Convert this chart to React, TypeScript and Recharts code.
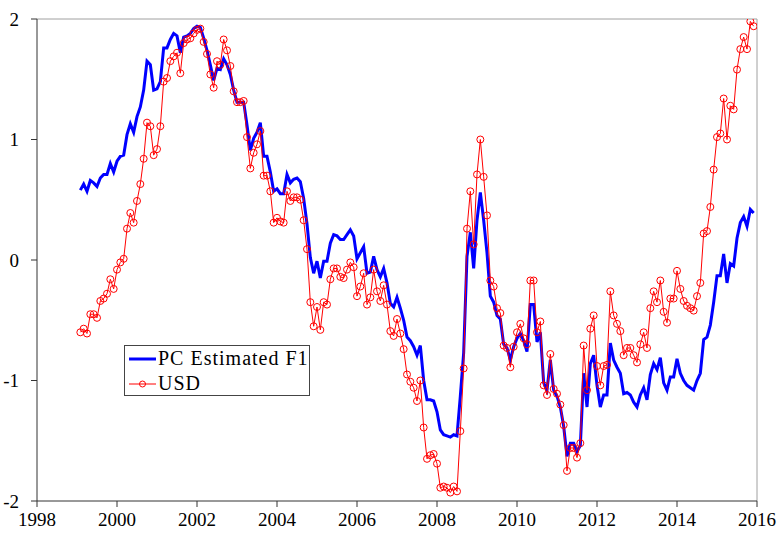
import React from "react";
import { LineChart, Line, XAxis, YAxis, ReferenceLine } from "recharts";

const usd: number[] = [
  -0.60, -0.57, -0.61, -0.45, -0.45, -0.48, -0.34, -0.32, -0.28, -0.16, -0.24, -0.08,
  -0.02, 0.01, 0.26, 0.39, 0.31, 0.49, 0.63, 0.84, 1.14, 1.11, 0.87, 0.92,
  1.11, 1.48, 1.51, 1.65, 1.69, 1.72, 1.55, 1.80, 1.83, 1.84, 1.88, 1.91,
  1.92, 1.81, 1.71, 1.54, 1.43, 1.65, 1.62, 1.83, 1.74, 1.61, 1.40, 1.31,
  1.31, 1.32, 1.02, 0.76, 0.89, 0.96, 1.07, 0.70, 0.70, 0.57, 0.31, 0.35,
  0.32, 0.31, 0.57, 0.49, 0.52, 0.52, 0.50, 0.33, 0.09, -0.35, -0.55, -0.39,
  -0.58, -0.35, -0.37, -0.16, -0.07, -0.07, -0.14, -0.15, -0.08, -0.02, -0.06, -0.30,
  -0.22, -0.11, -0.37, -0.31, -0.08, -0.26, -0.34, -0.21, -0.37, -0.59, -0.63, -0.49,
  -0.61, -0.74, -0.95, -1.01, -1.06, -1.17, -1.00, -1.39, -1.65, -1.62, -1.61, -1.69,
  -1.89, -1.88, -1.89, -1.93, -1.88, -1.92, -1.42, -0.90, 0.26, 0.57, 0.13, 0.71,
  1.00, 0.69, 0.37, -0.17, -0.22, -0.40, -0.44, -0.71, -0.73, -0.89, -0.72, -0.60,
  -0.53, -0.65, -0.70, -0.17, -0.17, -0.60, -0.51, -1.04, -1.12, -0.78, -1.07, -1.11,
  -1.20, -1.37, -1.75, -1.56, -1.56, -1.64, -1.52, -0.71, -1.08, -0.57, -0.46, -0.88,
  -1.04, -0.88, -0.87, -0.26, -0.46, -0.53, -0.59, -0.79, -0.73, -0.73, -0.79, -0.85,
  -0.70, -0.60, -0.73, -0.40, -0.26, -0.35, -0.17, -0.43, -0.52, -0.32, -0.32, -0.09,
  -0.24, -0.34, -0.38, -0.40, -0.42, -0.30, -0.19, 0.22, 0.24, 0.44, 0.75, 1.02,
  1.05, 1.34, 1.00, 1.28, 1.25, 1.58, 1.75, 1.85, 1.75, 1.98, 1.94,
];

const pcF1: number[] = [
  0.58, 0.63, 0.57, 0.66, 0.64, 0.61, 0.68, 0.71, 0.71, 0.80, 0.73, 0.82,
  0.86, 0.87, 1.04, 1.13, 1.06, 1.19, 1.27, 1.41, 1.65, 1.62, 1.41, 1.42,
  1.48, 1.76, 1.76, 1.83, 1.88, 1.86, 1.72, 1.85, 1.86, 1.88, 1.92, 1.94,
  1.93, 1.84, 1.74, 1.62, 1.49, 1.59, 1.58, 1.67, 1.62, 1.54, 1.41, 1.31,
  1.31, 1.31, 1.12, 0.91, 1.01, 1.06, 1.14, 0.86, 0.86, 0.73, 0.57, 0.59,
  0.55, 0.55, 0.71, 0.64, 0.67, 0.68, 0.65, 0.51, 0.30, 0.02, -0.11, -0.01,
  -0.15, -0.01, -0.01, 0.14, 0.21, 0.20, 0.17, 0.17, 0.21, 0.25, 0.20, 0.01,
  0.06, 0.11, -0.11, -0.10, 0.03, -0.08, -0.14, -0.07, -0.19, -0.36, -0.39, -0.31,
  -0.40, -0.50, -0.64, -0.67, -0.72, -0.79, -0.71, -1.00, -1.16, -1.16, -1.17, -1.26,
  -1.41, -1.45, -1.46, -1.47, -1.45, -1.46, -1.13, -0.77, 0.03, 0.23, -0.07, 0.33,
  0.56, 0.33, 0.06, -0.30, -0.35, -0.46, -0.49, -0.70, -0.73, -0.83, -0.72, -0.65,
  -0.61, -0.67, -0.76, -0.37, -0.37, -0.68, -0.60, -1.02, -1.08, -0.83, -1.08, -1.13,
  -1.22, -1.38, -1.63, -1.52, -1.52, -1.59, -1.54, -0.94, -1.22, -0.86, -0.79, -1.04,
  -1.22, -1.12, -1.12, -0.69, -0.83, -0.89, -0.94, -1.11, -1.10, -1.12, -1.18, -1.22,
  -1.12, -1.06, -1.16, -0.95, -0.86, -0.91, -0.81, -1.02, -1.08, -0.97, -0.97, -0.82,
  -0.94, -1.00, -1.04, -1.06, -1.08, -1.00, -0.94, -0.66, -0.64, -0.54, -0.35, -0.13,
  -0.13, 0.05, -0.19, -0.03, -0.05, 0.18, 0.31, 0.36, 0.28, 0.42, 0.39,
];

// monthly observations starting Feb 1999
const months: number[] = usd.map((_, i) => 1999 + (i + 1) / 12);

const xTicks = [1998, 2000, 2002, 2004, 2006, 2008, 2010, 2012, 2014, 2016];
const yTicks = [-2, -1, 0, 1, 2];

const data = months.map((t, i) => ({ t, pc: pcF1[i], usd: usd[i] }));

const FONT = "Liberation Serif";
const tickStyle = { fontFamily: FONT, fontSize: 19, fill: "#000" };

export default function App() {
  return (
    <div style={{ position: "fixed", left: 0, top: 0, width: 778, height: 533, background: "#fff" }}>
      <LineChart
        width={778}
        height={533}
        data={data}
        margin={{ top: 19, right: 21, bottom: 0, left: 0 }}
        style={{ fontFamily: FONT }}
      >
        <XAxis
          dataKey="t"
          type="number"
          domain={[1998, 2016]}
          ticks={xTicks}
          interval={0}
          height={32}
          tickSize={6}
          tickMargin={6}
          axisLine={{ stroke: "#333" }}
          tickLine={{ stroke: "#333" }}
          tick={tickStyle}
          allowDataOverflow
        />
        <YAxis
          type="number"
          domain={[-2, 2]}
          ticks={yTicks}
          interval={0}
          width={37}
          tickSize={6}
          tickMargin={12}
          axisLine={{ stroke: "#333" }}
          tickLine={{ stroke: "#333" }}
          tick={tickStyle}
          allowDataOverflow
        />
        <ReferenceLine y={2} stroke="#a0a0a0" strokeWidth={1} />
        <ReferenceLine x={2016} stroke="#a0a0a0" strokeWidth={1} />
        <Line
          type="linear"
          dataKey="pc"
          stroke="#0000ff"
          strokeWidth={3}
          dot={false}
          isAnimationActive={false}
        />
        <Line
          type="linear"
          dataKey="usd"
          stroke="#ff0000"
          strokeWidth={1}
          dot={{ r: 3.5, stroke: "#ff0000", strokeWidth: 1, fill: "none" }}
          isAnimationActive={false}
        />
      </LineChart>
      <div
        style={{
          position: "absolute",
          left: 124,
          top: 345,
          width: 184,
          height: 49,
          border: "1px solid #444",
          background: "#fff",
          fontFamily: FONT,
          fontSize: 20,
          letterSpacing: 1,
          color: "#000",
        }}
      >
        <div style={{ position: "absolute", left: 0, top: 0, height: 25, display: "flex", alignItems: "center" }}>
          <svg width={33} height={12} style={{ display: "block" }}>
            <line x1={4} y1={6} x2={31} y2={6} stroke="#0000ff" strokeWidth={3} />
          </svg>
          <span style={{ lineHeight: "25px" }}>PC Estimated F1</span>
        </div>
        <div style={{ position: "absolute", left: 0, top: 25, height: 25, display: "flex", alignItems: "center" }}>
          <svg width={33} height={12} style={{ display: "block" }}>
            <line x1={4} y1={6} x2={31} y2={6} stroke="#ff0000" strokeWidth={1} />
            <circle cx={17.5} cy={6} r={3} stroke="#ff0000" strokeWidth={1} fill="none" />
          </svg>
          <span style={{ lineHeight: "25px" }}>USD</span>
        </div>
      </div>
    </div>
  );
}
